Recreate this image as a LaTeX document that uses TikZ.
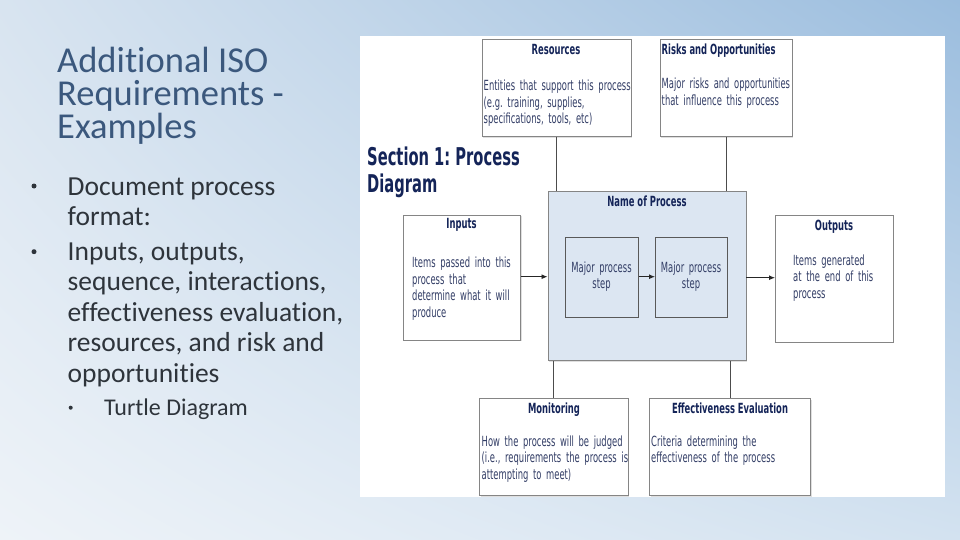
\documentclass[tikz,border=0pt]{standalone}
\usepackage{fontspec}
\setmainfont{Carlito}[Ligatures=NoCommon]
\newfontfamily\bx[FakeStretch=0.6]{DejaVu Sans}
\frenchspacing
\usetikzlibrary{arrows.meta,shadings,shadows}
\definecolor{bgTL}{HTML}{D8E4F0}
\definecolor{bgTR}{HTML}{9BBDDE}
\definecolor{bgBL}{HTML}{EEF3F8}
\definecolor{bgBR}{HTML}{D3E2F0}
\definecolor{ttl}{HTML}{3B587D}
\definecolor{bodytxt}{HTML}{2E343B}
\definecolor{navy}{HTML}{142458}
\definecolor{boxtxt}{HTML}{333E66}
\definecolor{boxline}{HTML}{858585}
\definecolor{procfill}{HTML}{DCE6F2}
\tikzset{
  box/.style={draw=boxline, line width=0.8pt, fill=white, inner sep=0pt, anchor=north west,
    drop shadow={shadow xshift=1.2pt, shadow yshift=-1.2pt, opacity=0.25}},
  procbox/.style={box, fill=procfill},
  stepbox/.style={draw=black!65, line width=0.8pt, fill=procfill, inner sep=0pt, anchor=north west},
  btitle/.style={inner sep=0pt, anchor=base, font=\bx\bfseries\fontsize{14}{16.5}\selectfont, text=navy},
  btitlel/.style={btitle, anchor=base west},
  bbody/.style={inner sep=0pt, anchor=base west, text width=220pt, align=left, font=\bx\fontsize{14}{16.6}\selectfont, text=boxtxt},
  steptext/.style={inner sep=0pt, anchor=base, text width=72pt, align=center, font=\bx\fontsize{14}{15.6}\selectfont, text=boxtxt},
  conn/.style={draw=black!70, line width=0.8pt},
  arr/.style={draw=black!85, line width=0.9pt, -{Latex[length=6pt,width=5pt]}},
  slidettl/.style={inner sep=0pt, anchor=base west, font=\fontsize{36.5}{33}\selectfont, text=ttl},
  slideline/.style={inner sep=0pt, anchor=base west, font=\fontsize{27.5}{30.5}\selectfont, text=bodytxt},
  sublinestyle/.style={inner sep=0pt, anchor=base west, font=\fontsize{24}{28}\selectfont, text=bodytxt},
  bul/.style={circle, fill=bodytxt, inner sep=0pt, minimum size=5pt},
  subbul/.style={circle, fill=bodytxt, inner sep=0pt, minimum size=4pt}
}
\begin{document}
\begin{tikzpicture}[x=1pt,y=-1pt]
\useasboundingbox (0,0) rectangle (960,540);
\shade[upper left=bgTL, upper right=bgTR, lower left=bgBL, lower right=bgBR] (0,0) rectangle (960,540);

% ---------- slide text ----------
\node[slidettl] (t1) at (57,72.5) {Additional ISO};
\node[slidettl] (t2) at (57,105.5) {Requirements -};
\node[slidettl] (t3) at (57,138.5) {Examples};

\node[bul] (b1) at (34,186) {};
\node[slideline] (l1) at (67.5,196) {Document process};
\node[slideline] (l2) at (67.5,225.5) {format:};
\node[bul] (b2) at (34,251.7) {};
\node[slideline] (l3) at (67.5,260) {Inputs, outputs,};
\node[slideline] (l4) at (67.5,290.5) {sequence, interactions,};
\node[slideline] (l5) at (67.5,321) {effectiveness evaluation,};
\node[slideline] (l6) at (67.5,351.5) {resources, and risk and};
\node[slideline] (l7) at (67.5,382) {opportunities};
\node[subbul] (b3) at (70.7,407.7) {};
\node[sublinestyle] (l8) at (104,415) {Turtle Diagram};

% ---------- diagram panel ----------
\fill[white] (360,36) rectangle (945,497);

\node[font=\bx\bfseries\fontsize{24.5}{29}\selectfont, text=navy, inner sep=0pt, anchor=base west] (sec1) at (367,165) {Section 1: Process};
\node[font=\bx\bfseries\fontsize{24.5}{29}\selectfont, text=navy, inner sep=0pt, anchor=base west] (sec2) at (367,193) {Diagram};

% boxes
\node[box, minimum width=149pt, minimum height=97pt] (res) at (481.5,39) {};
\node[box, minimum width=132pt, minimum height=97pt] (risk) at (659.5,39) {};
\node[procbox, minimum width=198pt, minimum height=169.5pt] (proc) at (547.5,190.5) {};
\node[stepbox, minimum width=73pt, minimum height=80.5pt] (s1) at (565,236.7) {};
\node[stepbox, minimum width=72pt, minimum height=80.5pt] (s2) at (655,236.7) {};
\node[box, minimum width=117.5pt, minimum height=125pt] (inp) at (402.5,214.5) {};
\node[box, minimum width=117.5pt, minimum height=126.5pt] (outp) at (775,215) {};
\node[box, minimum width=148.5pt, minimum height=97pt] (mon) at (479,398) {};
\node[box, minimum width=161pt, minimum height=97pt] (eff) at (649,398) {};

% connectors
\coordinate (resb) at (556,136);
\coordinate (riskb) at (726,136);
\draw[conn] (res.south -| resb) -- (proc.north -| resb);
\draw[conn] (risk.south -| riskb) -- (proc.north -| riskb);
\coordinate (monx) at (553.5,398);
\coordinate (effx) at (730,398);
\draw[conn] (proc.south -| monx) -- (mon.north -| monx);
\draw[conn] (proc.south -| effx) -- (eff.north -| effx);
\coordinate (ya) at (0,276.7);
\coordinate (yb) at (0,277.7);
\draw[arr] (inp.east |- ya) -- (proc.west |- ya);
\draw[arr] (s1.east |- ya) -- (s2.west |- ya);
\draw[arr] (proc.east |- yb) -- (outp.west |- yb);

% box texts
\node[btitle] (resT) at (556,55) {Resources};
\node[bbody] (resB) at (483.5,90.5) {Entities that support this process\\(e.g. training, supplies,\\specifications, tools, etc)};
\node[btitlel] (riskT) at (661.5,55) {Risks and Opportunities};
\node[bbody] (riskB) at (661.5,88.5) {Major risks and opportunities\\that influence this process};
\node[btitle] (procT) at (647,206) {Name of Process};
\node[steptext] (s1T) at (601.5,272.7) {Major process\\step};
\node[steptext] (s2T) at (691,272.7) {Major process\\step};
\node[btitle] (inpT) at (461.5,228) {Inputs};
\node[bbody] (inpB) at (412,267.5) {Items passed into this\\process that\\determine what it will\\produce};
\node[btitle] (outT) at (834,230) {Outputs};
\node[bbody] (outB) at (793,265) {Items generated\\at the end of this\\process};
\node[btitle] (monT) at (554,413) {Monitoring};
\node[bbody] (monB) at (481.5,446) {How the process will be judged\\(i.e., requirements the process is\\attempting to meet)};
\node[btitle] (effT) at (730,413) {Effectiveness Evaluation};
\node[bbody] (effB) at (651,446) {Criteria determining the\\effectiveness of the process};
\end{tikzpicture}
\end{document}
